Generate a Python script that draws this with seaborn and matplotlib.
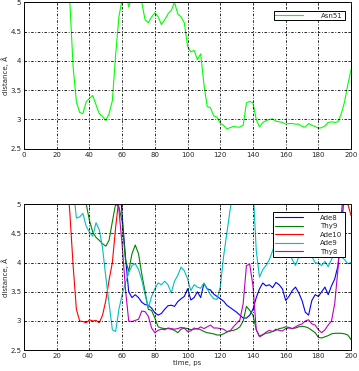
import numpy as np
import pandas as pd
import seaborn as sns
import matplotlib.pyplot as plt

# время, пс (шаг 2 пс)
time = np.arange(0, 201, 2)

# значения выше 5 уходят за верхнюю границу графика
asn51 = [5.6, 5.6, 5.6, 5.6, 5.6, 5.6, 5.6, 5.6, 5.6, 5.6, 5.6, 5.6, 5.6, 5.6,
         5.0, 3.9, 3.3, 3.12, 3.1, 3.3, 3.36, 3.41, 3.25, 3.1, 3.05, 2.98, 3.1, 3.32, 4.1, 4.75,
         5.05, 5.2, 4.92, 5.1, 5.3, 5.2, 5.0, 4.7, 4.65, 4.75, 4.82, 4.75, 4.62, 4.7, 4.8, 4.86,
         5.0, 4.8, 4.75, 4.65, 4.25, 4.15, 4.18, 4.02, 4.12, 3.6, 3.22, 3.2, 3.06, 3.04,
         2.93, 2.9, 2.84, 2.86, 2.88, 2.87, 2.87, 2.9, 3.28, 3.31, 3.28, 3.0, 2.87, 2.95, 2.98,
         3.0, 3.01, 2.97, 2.96, 2.95, 2.92, 2.93, 2.93, 2.92, 2.92, 2.88, 2.87, 2.93, 2.9, 2.88,
         2.85, 2.86, 2.89, 2.95, 2.96, 2.95, 2.96, 3.1, 3.3, 3.6, 3.85]

ade8 = [5.6, 5.6, 5.6, 5.6, 5.6, 5.6, 5.6, 5.6, 5.6, 5.6, 5.6, 5.6, 5.6, 5.6, 5.6,
        5.6, 5.6, 5.6, 5.6, 5.6, 5.6, 5.6, 5.6, 5.6, 5.6, 5.6, 5.6, 5.6, 5.6, 5.6,
        4.8, 4.1, 3.5, 3.4, 3.45, 3.4, 3.32, 3.28, 3.27, 3.22, 3.14, 3.1, 3.13, 3.2, 3.26,
        3.27, 3.25, 3.33, 3.38, 3.42, 3.55, 3.36, 3.4, 3.5, 3.4, 3.64, 3.55, 3.53, 3.46, 3.42,
        3.38, 3.34, 3.27, 3.23, 3.19, 3.15, 3.1, 3.05, 3.05, 3.1, 3.2, 3.4, 3.55, 3.65, 3.6,
        3.62, 3.57, 3.66, 3.62, 3.55, 3.35, 3.42, 3.52, 3.58, 3.48, 3.35, 3.15, 3.1, 3.35, 3.45,
        3.42, 3.5, 3.58, 3.45, 3.6, 3.72, 3.95, 4.5, 5.3, 5.6, 5.6]

thy9 = [5.6, 5.6, 5.6, 5.6, 5.6, 5.6, 5.6, 5.6, 5.6, 5.6, 5.6, 5.6, 5.6, 5.6, 5.6,
        5.6, 5.6, 5.6, 5.6,
        5.0, 4.72, 4.52, 4.43, 4.38, 4.32, 4.28, 4.38, 4.7, 5.0, 4.95, 4.7, 4.05, 3.85, 4.15,
        4.3, 4.15, 3.8, 3.5, 3.2, 3.18, 3.05, 2.9, 2.88, 2.87, 2.87, 2.86, 2.84, 2.8, 2.86,
        2.88, 2.87, 2.85, 2.86, 2.87, 2.85, 2.82, 2.8, 2.79, 2.78, 2.76, 2.76, 2.78, 2.81, 2.83,
        2.84, 2.86, 2.9, 3.0, 3.25, 3.18, 3.1, 2.85, 2.74, 2.77, 2.79, 2.8, 2.82, 2.84, 2.87,
        2.88, 2.9, 2.89, 2.87, 2.88, 2.9, 2.91, 2.9, 2.88, 2.84, 2.8, 2.72, 2.71, 2.73, 2.75,
        2.78, 2.79, 2.79, 2.79, 2.78, 2.76, 2.68]

ade10 = [5.6, 5.6, 5.6, 5.6, 5.6, 5.6, 5.6, 5.6, 5.6, 5.6, 5.6, 5.6, 5.6, 5.6,
         4.85, 3.95, 3.2, 3.0, 2.99, 2.97, 3.02, 3.0, 3.01, 2.97, 3.1, 3.35, 3.7, 4.0, 4.6, 5.1,
         5.6, 5.6, 5.6, 5.6, 5.6, 5.6, 5.6, 5.6, 5.6, 5.6, 5.6, 5.6, 5.6, 5.6, 5.6, 5.6, 5.6,
         5.6, 5.6, 5.6, 5.6, 5.6, 5.6, 5.6, 5.6, 5.6, 5.6, 5.6, 5.6, 5.6, 5.6, 5.6, 5.6, 5.6,
         5.6, 5.6, 5.6, 5.6, 5.6, 5.6, 5.6, 5.6, 5.6, 5.6, 5.6, 5.6, 5.6, 5.6, 5.6, 5.6, 5.6,
         5.6, 5.6, 5.6, 5.6, 5.6, 5.6, 5.6, 5.6, 5.6, 5.6, 5.6, 5.6, 5.6, 5.6, 5.6, 5.6, 5.6,
         5.6, 5.0, 4.8]

ade9 = [5.6, 5.6, 5.6, 5.6, 5.6, 5.6, 5.6, 5.6, 5.6, 5.6, 5.6, 5.6, 5.6, 5.6, 5.6,
        5.3, 4.76, 4.78, 4.84, 4.62, 4.52, 4.45, 4.68, 4.56, 4.25, 3.75, 3.3, 2.85, 2.82, 3.2,
        3.45, 3.65, 3.82, 3.95, 3.98, 3.88, 3.7, 3.45, 3.22, 3.42, 3.55, 3.65, 3.62, 3.68, 3.62,
        3.48, 3.68, 3.78, 3.92, 3.86, 3.72, 3.52, 3.62, 3.58, 3.56, 3.65, 3.55, 3.45, 3.38, 3.37,
        3.58, 4.1, 4.5, 4.9, 5.3, 5.6, 5.6, 5.6, 5.6, 5.6,
        5.3, 4.2, 3.75, 3.88, 3.95, 4.05, 4.2, 4.35, 4.3, 4.2, 4.15, 4.2, 4.05, 3.95, 4.1,
        4.25, 4.3, 4.2, 4.1, 4.0, 3.98, 3.95, 4.02, 3.93, 4.05, 4.2, 4.15, 4.1, 4.05, 3.98, 4.0]

thy8 = [5.6, 5.6, 5.6, 5.6, 5.6, 5.6, 5.6, 5.6, 5.6, 5.6, 5.6, 5.6, 5.6, 5.6, 5.6,
        5.6, 5.6, 5.6, 5.6, 5.6, 5.6, 5.6, 5.6, 5.6, 5.6, 5.6, 5.6, 5.6, 5.6,
        4.9, 4.3, 3.55, 3.0, 2.99, 3.01, 3.03, 3.17, 3.16, 3.08, 2.88, 2.8, 2.84, 2.86, 2.85,
        2.88, 2.87, 2.86, 2.87, 2.89, 2.88, 2.82, 2.83, 2.88, 2.86, 2.9, 2.87, 2.9, 2.93, 2.88,
        2.88, 2.87, 2.86, 2.82, 2.83, 2.9, 2.96, 3.02, 3.3, 3.95, 3.97, 3.6, 2.85, 2.73, 2.76,
        2.81, 2.84, 2.82, 2.86, 2.84, 2.83, 2.87, 2.88, 2.87, 2.9, 2.93, 2.95, 3.0, 3.02, 2.95,
        2.93, 2.85, 2.8, 2.85, 2.93, 3.0, 3.3, 3.9, 4.8, 5.5, 5.6, 5.6]

bottom_names = ["Ade8", "Thy9", "Ade10", "Ade9", "Thy8"]
bottom_colors = ["#0000ff", "#008000", "#ff0000", "#00bfbf", "#bf00bf"]

xticks = [0, 20, 40, 60, 80, 100, 120, 140, 160, 180, 200]
yticks = [2.5, 3, 3.5, 4, 4.5, 5]
yticklabels = ["2.5", "3", "3.5", "4", "4.5", "5"]

sns.set_style("white")
plt.rcParams['font.family'] = ['DejaVu Sans']
fs = 5

fig = plt.figure(figsize=(3.59, 3.71), dpi=100)
ax1 = fig.add_axes([0.067, 0.599, 0.911, 0.395])
ax2 = fig.add_axes([0.067, 0.056, 0.911, 0.394])

top_df = pd.DataFrame({"time": time, "distance": asn51, "name": "Asn51"})
sns.lineplot(data=top_df, x="time", y="distance", hue="name",
             palette=["#00ff00"], linewidth=0.8, ax=ax1)

bottom_df = pd.concat([
    pd.DataFrame({"time": time, "distance": vals, "name": nm})
    for nm, vals in zip(bottom_names, [ade8, thy9, ade10, ade9, thy8])
])
sns.lineplot(data=bottom_df, x="time", y="distance", hue="name",
             hue_order=bottom_names, palette=bottom_colors, linewidth=0.8, ax=ax2)

grid_style = (0, (3, 2, 1, 2))
for ax in (ax1, ax2):
    ax.set_xlim(0, 200)
    ax.set_ylim(2.5, 5)
    ax.set_xticks(xticks)
    ax.set_yticks(yticks)
    ax.set_yticklabels(yticklabels)
    ax.tick_params(direction="in", length=2, width=0.6, labelsize=fs, pad=2,
                   top=True, right=True)
    ax.grid(True, color="black", linestyle=grid_style, linewidth=0.6)
    for sp in ax.spines.values():
        sp.set_color("black")
        sp.set_linewidth(0.7)
    ax.set_ylabel("distance, Å", fontsize=fs, labelpad=1)
    ax.set_axisbelow(False)

ax1.set_xlabel("")
ax2.set_xlabel("time, ps", fontsize=fs, labelpad=1)

leg1 = ax1.legend(loc="upper right", fontsize=fs, handlelength=4, frameon=True,
                  fancybox=False, framealpha=1, edgecolor="black",
                  borderpad=0.25, handletextpad=2.6, borderaxespad=0,
                  bbox_to_anchor=(0.98, 0.94))
leg1.get_frame().set_linewidth(0.7)

leg2 = ax2.legend(loc="upper right", fontsize=fs, handlelength=4, frameon=True,
                  fancybox=False, framealpha=1, edgecolor="black",
                  borderpad=0.35, labelspacing=0.36, handletextpad=2.4,
                  borderaxespad=0, bbox_to_anchor=(0.98, 0.943))
leg2.get_frame().set_linewidth(0.7)

fig.savefig("out.png", dpi=100)
